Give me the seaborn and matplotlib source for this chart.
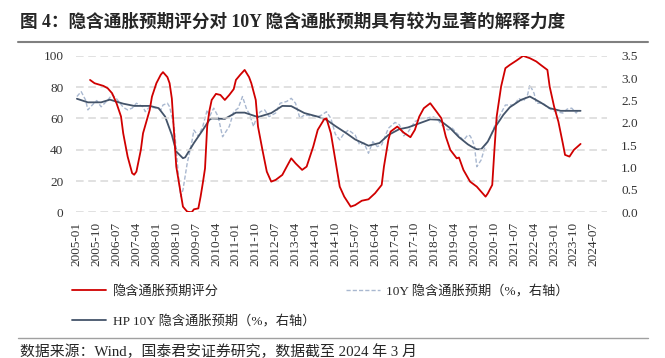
import pandas as pd
import matplotlib.pyplot as plt
import matplotlib.ticker as mticker
from matplotlib.lines import Line2D
import seaborn as sns

# --- 数据（从原图读取，月度，部分节点）---
# 隐含通胀预期评分（左轴）
score_dates = ['2005-07', '2005-09', '2006-01', '2006-03', '2006-05', '2006-07', '2006-09', '2006-10',
               '2006-12', '2007-02', '2007-03', '2007-04', '2007-06', '2007-07', '2007-10', '2007-11',
               '2008-01', '2008-03', '2008-04', '2008-06', '2008-07', '2008-08', '2008-09', '2008-10',
               '2008-12', '2009-01', '2009-03', '2009-05', '2009-06', '2009-08', '2009-09', '2009-10',
               '2009-11', '2009-12', '2010-01', '2010-02', '2010-04', '2010-06', '2010-08', '2010-10',
               '2010-12', '2011-01', '2011-03', '2011-05', '2011-07', '2011-08', '2011-10', '2011-11',
               '2012-01', '2012-03', '2012-05', '2012-07', '2012-10', '2012-12', '2013-02', '2013-04',
               '2013-07', '2013-09', '2013-12', '2014-02', '2014-05', '2014-06', '2014-08', '2014-10',
               '2014-12', '2015-02', '2015-05', '2015-07', '2015-10', '2016-01', '2016-04', '2016-07',
               '2016-08', '2016-10', '2016-11', '2017-02', '2017-05', '2017-08', '2017-10', '2017-12',
               '2018-02', '2018-05', '2018-08', '2018-10', '2018-12', '2019-02', '2019-05', '2019-06',
               '2019-08', '2019-11', '2020-02', '2020-04', '2020-06', '2020-07', '2020-09', '2020-10',
               '2020-11', '2021-01', '2021-03', '2021-05', '2021-08', '2021-11', '2022-02', '2022-05',
               '2022-07', '2022-10', '2022-11', '2023-01', '2023-03', '2023-05', '2023-06', '2023-08',
               '2023-10', '2024-01']
score_vals = [84.6, 82.5, 80.8, 79.3, 76.1, 69.7, 61.2, 50.5,
              35.6, 25.0, 24.0, 26.0, 39.9, 50.5, 65.4, 73.9,
              82.5, 87.9, 89.6, 86.4, 82.5, 72.7, 50.5, 29.2,
              12.2, 3.6, 0.4, 0.0, 1.9, 2.5, 10.0, 18.5,
              28.0, 55.0, 65.0, 71.8, 75.7, 75.0, 71.8, 75.0,
              78.7, 84.6, 87.9, 91.0, 86.4, 82.5, 71.8, 54.8,
              39.9, 26.0, 19.6, 20.7, 23.9, 29.2, 34.5, 31.3,
              27.1, 29.2, 42.0, 52.7, 59.5, 60.0, 50.5, 33.5,
              16.4, 10.0, 3.6, 4.6, 7.4, 8.3, 12.2, 17.5,
              29.2, 46.3, 51.6, 54.8, 50.9, 48.0, 52.7, 61.2,
              66.5, 69.7, 64.0, 60.1, 48.4, 39.9, 34.5, 35.0,
              27.1, 19.6, 16.4, 13.2, 10.0, 12.0, 17.5, 39.9,
              61.2, 80.4, 92.1, 94.2, 97.0, 100.0, 98.5, 96.4,
              94.2, 91.0, 80.4, 67.6, 58.0, 44.1, 36.7, 35.6,
              39.9, 43.7]

# 10Y 隐含通胀预期（%，右轴）
be_dates = ['2005-01', '2005-03', '2005-05', '2005-06', '2005-08', '2005-10', '2005-12', '2006-03',
            '2006-05', '2006-07', '2006-10', '2006-12', '2007-02', '2007-04', '2007-07', '2007-08',
            '2007-10', '2008-01', '2008-03', '2008-04', '2008-06', '2008-07', '2008-09', '2008-10',
            '2008-11', '2008-12', '2009-01', '2009-03', '2009-05', '2009-06', '2009-08', '2009-10',
            '2009-12', '2010-01', '2010-03', '2010-05', '2010-07', '2010-10', '2010-12', '2011-02',
            '2011-04', '2011-06', '2011-07', '2011-09', '2011-10', '2011-12', '2012-02', '2012-04',
            '2012-07', '2012-09', '2012-12', '2013-02', '2013-04', '2013-06', '2013-08', '2013-11',
            '2014-02', '2014-04', '2014-06', '2014-08', '2014-10', '2014-12', '2015-02', '2015-04',
            '2015-07', '2015-09', '2015-11', '2016-01', '2016-03', '2016-05', '2016-07', '2016-10',
            '2017-01', '2017-03', '2017-05', '2017-07', '2017-10', '2018-01', '2018-03', '2018-06',
            '2018-08', '2018-10', '2019-01', '2019-03', '2019-05', '2019-08', '2019-10', '2019-11',
            '2019-12', '2020-01', '2020-02', '2020-04', '2020-06', '2020-08', '2020-10', '2021-01',
            '2021-03', '2021-04', '2021-07', '2021-09', '2021-11', '2022-01', '2022-02', '2022-04',
            '2022-05', '2022-08', '2022-10', '2022-12', '2023-02', '2023-05', '2023-07', '2023-09',
            '2023-11', '2023-12']
be_vals = [2.59, 2.70, 2.51, 2.29, 2.40, 2.50, 2.36, 2.51,
           2.63, 2.54, 2.35, 2.29, 2.33, 2.44, 2.36, 2.25,
           2.36, 2.33, 2.29, 2.40, 2.44, 2.36, 1.92, 1.40,
           0.80, 0.35, 0.50, 1.10, 1.55, 1.84, 1.70, 1.92,
           2.29, 2.14, 2.33, 2.14, 1.69, 1.92, 2.25, 2.33,
           2.59, 2.29, 2.22, 1.92, 2.07, 2.25, 2.29, 2.14,
           2.22, 2.44, 2.48, 2.55, 2.44, 2.10, 2.18, 2.16,
           2.14, 2.18, 2.25, 2.10, 1.75, 1.62, 1.77, 1.84,
           1.73, 1.51, 1.55, 1.32, 1.58, 1.47, 1.51, 1.88,
           2.01, 1.96, 1.71, 1.80, 2.03, 2.10, 2.10, 2.14,
           2.10, 1.96, 1.84, 1.88, 1.77, 1.61, 1.73, 1.71,
           1.62, 1.47, 1.02, 1.17, 1.51, 1.66, 1.92, 2.22,
           2.40, 2.40, 2.40, 2.55, 2.48, 2.63, 2.85, 2.66,
           2.44, 2.44, 2.35, 2.29, 2.25, 2.22, 2.31, 2.33,
           2.22, 2.29]

# HP 10Y 隐含通胀预期（%，右轴）
hp_dates = ['2005-01', '2005-06', '2005-12', '2006-04', '2006-10', '2007-03', '2007-10', '2008-02',
            '2008-05', '2008-08', '2008-10', '2009-01', '2009-02', '2009-06', '2009-10', '2010-01',
            '2010-02', '2010-08', '2011-01', '2011-05', '2011-11', '2012-05', '2012-10', '2013-02',
            '2013-08', '2014-02', '2014-06', '2014-10', '2015-03', '2015-07', '2016-01', '2016-06',
            '2016-10', '2017-03', '2017-07', '2017-12', '2018-05', '2018-09', '2019-02', '2019-06',
            '2019-10', '2019-12', '2020-02', '2020-04', '2020-07', '2020-10', '2021-02', '2021-05',
            '2021-10', '2022-02', '2022-07', '2022-11', '2023-04', '2024-01']
hp_vals = [2.54, 2.46, 2.46, 2.52, 2.43, 2.38, 2.38, 2.33,
           2.14, 1.73, 1.36, 1.21, 1.23, 1.55, 1.84, 2.07,
           2.10, 2.09, 2.23, 2.23, 2.13, 2.22, 2.38, 2.375,
           2.22, 2.14, 2.07, 1.93, 1.77, 1.63, 1.49, 1.55,
           1.73, 1.86, 1.90, 1.99, 2.08, 2.07, 1.88, 1.68,
           1.52, 1.46, 1.41, 1.41, 1.58, 1.88, 2.18, 2.35,
           2.515, 2.59, 2.455, 2.33, 2.27, 2.27]

tick_dates = pd.date_range('2005-01-01', '2024-07-01', freq='9MS')

# --- 样式 ---
sns.set_style('white')
plt.rcParams['font.family'] = ['Liberation Serif', 'Noto Sans CJK SC']
plt.rcParams['axes.unicode_minus'] = False

score = pd.DataFrame({'date': pd.to_datetime(score_dates, format='%Y-%m'), 'val': score_vals})
be = pd.DataFrame({'date': pd.to_datetime(be_dates, format='%Y-%m'), 'val': be_vals})
hp = pd.DataFrame({'date': pd.to_datetime(hp_dates, format='%Y-%m'), 'val': hp_vals})

RED = '#D00000'
HP_C = '#44546A'
BE_C = '#A9B8D0'

fig = plt.figure(figsize=(6.65, 3.58), dpi=100)
ax = fig.add_axes([0.114, 0.407, 0.799, 0.437])
ax2 = ax.twinx()

sns.lineplot(data=be, x='date', y='val', ax=ax2, color=BE_C, lw=1.0, linestyle=(0, (3, 1.5)))
sns.lineplot(data=hp, x='date', y='val', ax=ax2, color=HP_C, lw=1.3)
sns.lineplot(data=score, x='date', y='val', ax=ax, color=RED, lw=1.3)

ax.set_zorder(ax2.get_zorder() + 1)
ax.patch.set_visible(False)

ax.set_ylim(0, 100)
ax.set_yticks(range(0, 101, 20))
ax2.set_ylim(0, 3.5)
ax2.set_yticks([i * 0.5 for i in range(8)])
ax2.yaxis.set_major_formatter(mticker.FormatStrFormatter('%.1f'))

ax.set_xlim(pd.Timestamp('2004-12-17'), pd.Timestamp('2025-01-01'))
ax.set_xticks(tick_dates)
ax.set_xticklabels([d.strftime('%Y-%m') for d in tick_dates], rotation=90)

ax.grid(axis='y', color='#D9D9D9', linestyle=(0, (5, 3)), lw=1.1)
ax.grid(axis='x', visible=False)
ax2.grid(False)
for a in (ax, ax2):
    a.set_xlabel('')
    a.set_ylabel('')
    for s in a.spines.values():
        s.set_visible(False)
ax.tick_params(axis='y', length=0, pad=9, labelsize=9.5, colors='#333333')
ax.tick_params(axis='x', length=0, pad=7, labelsize=9.5, colors='#333333')
ax2.tick_params(axis='y', length=0, pad=10, labelsize=9.5, colors='#333333')

handles = [Line2D([], [], color=RED, lw=1.3),
           Line2D([], [], color=HP_C, lw=1.3),
           Line2D([], [], color=BE_C, lw=1.0, linestyle=(0, (3, 1.5)))]
labels = ['隐含通胀预期评分', 'HP 10Y 隐含通胀预期（%，右轴）', '10Y 隐含通胀预期（%，右轴）']
fig.legend(handles, labels, ncol=2, loc='upper left', bbox_to_anchor=(0.108, 0.204),
           frameon=False, fontsize=9.5, handlelength=2.6, handletextpad=0.5,
           labelspacing=1.25, columnspacing=2.3, borderpad=0, borderaxespad=0)

fig.text(0.03, 0.939, '图 4：隐含通胀预期评分对 10Y 隐含通胀预期具有较为显著的解释力度',
         fontsize=12.7, fontweight='bold', va='center', ha='left')
fig.add_artist(Line2D([0.027, 0.975], [0.882, 0.882], color='#808080', lw=1.5))
fig.add_artist(Line2D([0.027, 0.975], [0.056, 0.056], color='#A0A0A0', lw=1.0))
fig.text(0.03, 0.017, '数据来源：Wind，国泰君安证券研究，数据截至 2024 年 3 月',
         fontsize=10.7, va='center', ha='left')

fig.savefig('out.png', dpi=100)
